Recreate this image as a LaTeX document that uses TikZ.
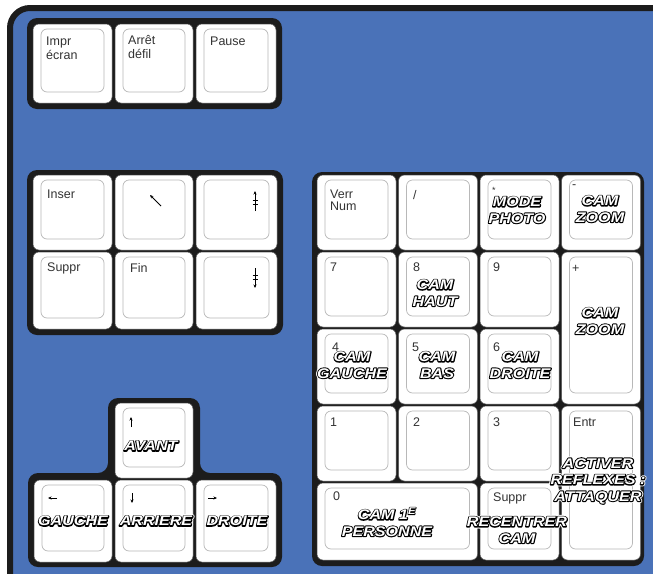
\documentclass[tikz,border=0pt]{standalone}
\usepackage{fontspec}
\setmainfont{Liberation Sans}
\newfontfamily\smallfont{Liberation Sans}
\newfontfamily\bigfont{Liberation Sans}[FakeStretch=1.15]
\newfontfamily\bigfontK{Liberation Sans}[FakeStretch=1.15, FakeBold=15]
\newfontfamily\bigfontW{Liberation Sans}[FakeStretch=1.15, FakeBold=28]
\usetikzlibrary{arrows.meta}
\definecolor{bgblue}{HTML}{4A72B8}
\definecolor{framec}{HTML}{1C1C1C}
\definecolor{lbl}{HTML}{333333}
\newcommand\ol[1]{{\leavevmode\pgfsetroundjoin\rlap{\bigfontW\color{white}#1}\rlap{\bigfontK\color{black}#1}{\bigfont\color{white}#1}}}
\newcommand\keycap[4]{%
 \draw[keyface] (#1,#2) rectangle (#3,#4);
 \draw[keyinner] ({#1+8},{#2+5}) rectangle ({#3-8},{#4-11});}
\tikzset{
 cluster/.style={fill=framec, rounded corners=10pt},
 keyface/.style={fill=white, draw=black!65, line width=0.5pt, rounded corners=6pt},
 keyinner/.style={draw=black!28, line width=0.7pt, rounded corners=6pt},
 small/.style={font=\smallfont\fontsize{12.5}{12}\selectfont, text=lbl, anchor=north west, inner sep=0pt, align=left},
 big/.style={font=\bfseries\itshape\fontsize{14}{16.5}\selectfont, align=center, inner sep=0pt},
 glyph/.style={line width=0.7pt, -{Stealth[length=3.5pt,width=3pt]}},
}
\begin{document}
\begin{tikzpicture}[x=1pt,y=-1pt]
\useasboundingbox (0,0) rectangle (653,573);
\clip (0,0) rectangle (653,573);
\fill[white] (0,0) rectangle (653,573);
\draw[draw=framec, line width=6pt, fill=bgblue, rounded corners=20pt] (10,8) rectangle (700,620);

% top cluster
\fill[cluster] (27,18) rectangle (282,109);
\keycap{33}{24}{112}{103}
\keycap{115}{24}{193}{103}
\keycap{196}{24}{276}{103}
\node[small, align=left, font=\smallfont\fontsize{12.5}{14}\selectfont] (impr) at (46,37) {Impr\\écran};
\node[small, font=\smallfont\fontsize{12.5}{14}\selectfont] (arret) at (128,35) {Arrêt\\défil};
\node[small] (pause) at (210,37) {Pause};

% navigation cluster
\fill[cluster] (27,170) rectangle (283,335);
\keycap{33}{175}{112}{250}
\keycap{115}{175}{193}{250}
\keycap{196}{175}{277}{250}
\keycap{33}{252}{112}{329}
\keycap{115}{252}{193}{329}
\keycap{196}{252}{277}{329}
\node[small] (inser) at (47,190) {Inser};
\node[small] (suppr1) at (47,263) {Suppr};
\node[small] (fin) at (130,263) {Fin};
\coordinate (homeA) at (161,206);
\coordinate (homeB) at (150,195);
\draw[glyph, line width=0.9pt] (homeA) -- (homeB);
\coordinate (pgupA) at (255,211);
\coordinate (pgupB) at (255,191);
\draw[glyph] (pgupA) -- (pgupB);
\draw[line width=0.6pt] (252.5,200) -- (257.5,200) (252.5,204) -- (257.5,204);
\coordinate (pgdnA) at (255,268);
\coordinate (pgdnB) at (255,288);
\draw[glyph] (pgdnA) -- (pgdnB);
\draw[line width=0.6pt] (252.5,275) -- (257.5,275) (252.5,279) -- (257.5,279);

% arrow cluster
\fill[cluster] (108,398) -- (200,398) -- (200,473) -- (282,473) -- (282,567) -- (28,567) -- (28,473) -- (108,473) -- cycle;
\keycap{115}{403}{193}{478}
\keycap{34}{480}{112}{562}
\keycap{115}{480}{193}{562}
\keycap{196}{480}{276}{562}
\coordinate (upA) at (131,427);
\coordinate (upB) at (131,417);
\draw[glyph] (upA) -- (upB);
\coordinate (leftA) at (57,498);
\coordinate (leftB) at (48,498);
\draw[glyph] (leftA) -- (leftB);
\coordinate (downA) at (132,493);
\coordinate (downB) at (132,503);
\draw[glyph] (downA) -- (downB);
\coordinate (rightA) at (208,498);
\coordinate (rightB) at (217,498);
\draw[glyph] (rightA) -- (rightB);
\node[big] (avant) at (151,446) {\ol{AVANT}};
\node[big] (gauche) at (73,521) {\ol{GAUCHE}};
\node[big] (arriere) at (156,521) {\ol{ARRIERE}};
\node[big] (droite) at (237,521) {\ol{DROITE}};

% numeric keypad
\fill[cluster] (312,172) rectangle (644,566);
\keycap{317}{175}{396}{250}
\keycap{398.5}{175}{477.5}{250}
\keycap{480}{175}{559}{250}
\keycap{561.5}{175}{640.5}{250}
\keycap{317}{252}{396}{327}
\keycap{398.5}{252}{477.5}{327}
\keycap{480}{252}{559}{327}
\keycap{561.5}{252}{640.5}{404}
\keycap{317}{329}{396}{404}
\keycap{398.5}{329}{477.5}{404}
\keycap{480}{329}{559}{404}
\keycap{317}{406}{396}{481}
\keycap{398.5}{406}{477.5}{481}
\keycap{480}{406}{559}{481}
\keycap{561.5}{406}{640.5}{560}
\keycap{317}{483}{477.5}{560}
\keycap{480}{483}{559}{560}

\node[small] (verr) at (330,190) {Verr\\Num};
\node[small] (slash) at (413,190) {/};
\node[small, font=\smallfont\fontsize{9}{10}\selectfont] (star) at (492,187) {*};
\node[small] (minus) at (572,184) {-};
\node[small] (n7) at (330,263) {7};
\node[small] (n8) at (413,263) {8};
\node[small] (n9) at (493,263) {9};
\node[small] (plus) at (572,265) {+};
\node[small] (n4) at (332,343) {4};
\node[small] (n5) at (412,343) {5};
\node[small] (n6) at (493,343) {6};
\node[small] (n1) at (330,418) {1};
\node[small] (n2) at (413,418) {2};
\node[small] (n3) at (493,418) {3};
\node[small] (entr) at (573,418) {Entr};
\node[small] (n0) at (333,492) {0};
\node[small] (suppr2) at (493,493) {Suppr};

\node[big] (photo) at (517,210) {\ol{MODE}\\\ol{PHOTO}};
\node[big] (zoom1) at (600,209) {\ol{CAM}\\\ol{ZOOM}};
\node[big] (haut) at (435,293) {\ol{CAM}\\\ol{HAUT}};
\node[big] (zoom2) at (600,321) {\ol{CAM}\\\ol{ZOOM}};
\node[big] (camg) at (352,365) {\ol{CAM}\\\ol{GAUCHE}};
\node[big] (camb) at (437,365) {\ol{CAM}\\\ol{BAS}};
\node[big] (camd) at (520,365) {\ol{CAM}\\\ol{DROITE}};
\node[big] (activer) at (598,481) {\ol{ACTIVER}\\\ol{REFLEXES :}\\\ol{ATTAQUER}};
\node[big] (perso) at (387,522) {\ol{CAM 1\textsuperscript{E}}\\\ol{PERSONNE}};
\node[big] (recentrer) at (517,530) {\ol{RECENTRER}\\\ol{CAM}};
\end{tikzpicture}
\end{document}
